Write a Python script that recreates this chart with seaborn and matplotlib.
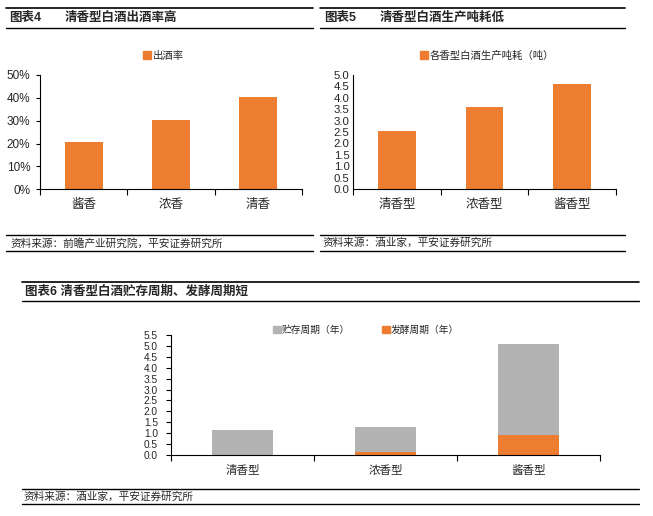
import numpy as np
import pandas as pd
import matplotlib
matplotlib.use("Agg")
import matplotlib.pyplot as plt
from matplotlib.lines import Line2D
from matplotlib.patches import Patch
from matplotlib.ticker import FixedLocator
import seaborn as sns

sns.set_style("white")
plt.rcParams['font.family'] = ['Liberation Sans', 'Noto Sans CJK SC']
plt.rcParams['axes.unicode_minus'] = False

# chart 4: 出酒率
yield_cats = ['酱香', '浓香', '清香']
yield_vals = [20.5, 30.5, 40.5]  # %

# chart 5: 吨耗
cost_cats = ['清香型', '浓香型', '酱香型']
cost_vals = [2.55, 3.58, 4.58]

# chart 6: 贮存 / 发酵周期（年）
cycle_cats = ['清香型', '浓香型', '酱香型']
ferment_years = [0.03, 0.15, 0.92]
storage_years = [1.12, 1.12, 4.14]

ORANGE = '#ED7D31'
GRAY = '#B3B3B3'
W, H = 653, 516

fig = plt.figure(figsize=(W / 100, H / 100), dpi=100)


def rect(l, t, r, b):
    return [l / W, 1 - b / H, (r - l) / W, (b - t) / H]


def hline(x0, x1, y, lw=1.0):
    fig.add_artist(Line2D([x0 / W, x1 / W], [1 - y / H, 1 - y / H],
                          transform=fig.transFigure, color='black', lw=lw))


def ftext(x, y, s, **kw):
    fig.text(x / W, 1 - y / H, s, va='center', ha='left', **kw)


def style_axis(ax, n, ytick_len, ypad, xpad, ysize, xsize):
    sns.despine(ax=ax)
    for sp in ['left', 'bottom']:
        ax.spines[sp].set_color('black')
        ax.spines[sp].set_linewidth(0.8)
    ax.set_xlim(-0.5, n - 0.5)
    ax.xaxis.set_minor_locator(FixedLocator(np.arange(-0.5, n, 1.0)))
    ax.tick_params(axis='x', which='major', length=0, pad=xpad, labelsize=xsize)
    ax.tick_params(axis='x', which='minor', length=4, width=0.8,
                   direction='out', color='black', bottom=True)
    ax.tick_params(axis='y', length=ytick_len, width=0.8, direction='out',
                   color='black', pad=ypad, labelsize=ysize, left=True)
    ax.set_xlabel('')
    ax.set_ylabel('')


bar_kw = dict(saturation=1, linewidth=0, edgecolor='none')

# ---------------- chart 4 ----------------
ax4 = fig.add_axes(rect(40, 75, 302, 189.3))
df4 = pd.DataFrame({'cat': yield_cats, 'val': yield_vals})
sns.barplot(data=df4, x='cat', y='val', color=ORANGE, width=0.435, ax=ax4,
            **bar_kw)
ax4.set_ylim(0, 50)
ax4.set_yticks(np.arange(0, 51, 10))
ax4.set_yticklabels([f'{v:.0f}%' for v in np.arange(0, 51, 10)])
style_axis(ax4, 3, 3, 4, 7, 8.5, 9)
ax4.legend(handles=[Patch(color=ORANGE, label='出酒率')],
           loc='center left', bbox_to_anchor=(143 / W, 1 - 56 / H),
           bbox_transform=fig.transFigure, frameon=False, fontsize=7.5,
           handlelength=0.8, handleheight=0.8, handletextpad=0.1,
           borderpad=0, borderaxespad=0)

hline(6, 313, 8, 1.2)
hline(6, 313, 28)
hline(6, 313, 235)
hline(6, 313, 250.5)
ftext(9, 18, '图表4', fontsize=9, fontweight='bold')
ftext(65, 18, '清香型白酒出酒率高', fontsize=9, fontweight='bold')
ftext(10, 243, '资料来源：前瞻产业研究院，平安证券研究所', fontsize=7.7,
      style='italic')

# ---------------- chart 5 ----------------
ax5 = fig.add_axes(rect(353, 74.7, 616, 189.3))
df5 = pd.DataFrame({'cat': cost_cats, 'val': cost_vals})
sns.barplot(data=df5, x='cat', y='val', color=ORANGE, width=0.43, ax=ax5,
            **bar_kw)
ax5.set_ylim(0, 5)
ax5.set_yticks(np.arange(0, 5.01, 0.5))
ax5.set_yticklabels([f'{v:.1f}' for v in np.arange(0, 5.01, 0.5)])
style_axis(ax5, 3, 0, 2.5, 7, 8.2, 9)
ax5.legend(handles=[Patch(color=ORANGE, label='各香型白酒生产吨耗（吨）')],
           loc='center left', bbox_to_anchor=(420 / W, 1 - 56 / H),
           bbox_transform=fig.transFigure, frameon=False, fontsize=7.5,
           handlelength=0.8, handleheight=0.8, handletextpad=0.1,
           borderpad=0, borderaxespad=0)

hline(320, 625, 8, 1.2)
hline(320, 625, 28)
hline(320, 625, 235)
hline(320, 625, 250.5)
ftext(324, 18, '图表5', fontsize=9, fontweight='bold')
ftext(380, 18, '清香型白酒生产吨耗低', fontsize=9, fontweight='bold')
ftext(322, 243, '资料来源：酒业家，平安证券研究所', fontsize=7.7,
      style='italic')

# ---------------- chart 6 ----------------
ax6 = fig.add_axes(rect(171, 334.7, 600, 455.3))
df6 = pd.DataFrame({'cat': cycle_cats,
                    'ferment': ferment_years,
                    'total': np.array(ferment_years) + np.array(storage_years)})
sns.barplot(data=df6, x='cat', y='total', color=GRAY, width=0.42, ax=ax6,
            **bar_kw)
sns.barplot(data=df6, x='cat', y='ferment', color=ORANGE, width=0.42, ax=ax6,
            **bar_kw)
ax6.set_ylim(0, 5.5)
ax6.set_yticks(np.arange(0, 5.51, 0.5))
ax6.set_yticklabels([f'{v:.1f}' for v in np.arange(0, 5.51, 0.5)])
style_axis(ax6, 3, 3.5, 6, 7, 7.3, 8.3)
ax6.legend(handles=[Patch(color=GRAY, label='贮存周期（年）'),
                    Patch(color=ORANGE, label='发酵周期（年）')],
           loc='center left', bbox_to_anchor=(273 / W, 1 - 330 / H),
           bbox_transform=fig.transFigure, frameon=False, fontsize=7,
           ncol=2, columnspacing=3.3,
           handlelength=0.8, handleheight=0.8, handletextpad=0.1,
           borderpad=0, borderaxespad=0)

hline(22, 639, 282, 1.2)
hline(22, 639, 301)
hline(22, 639, 488.7)
hline(22, 639, 504.3)
ftext(25, 292, '图表6 清香型白酒贮存周期、发酵周期短', fontsize=9,
      fontweight='bold')
ftext(23, 497, '资料来源：酒业家，平安证券研究所', fontsize=7.7,
      style='italic')

fig.savefig('out.png', dpi=100)
